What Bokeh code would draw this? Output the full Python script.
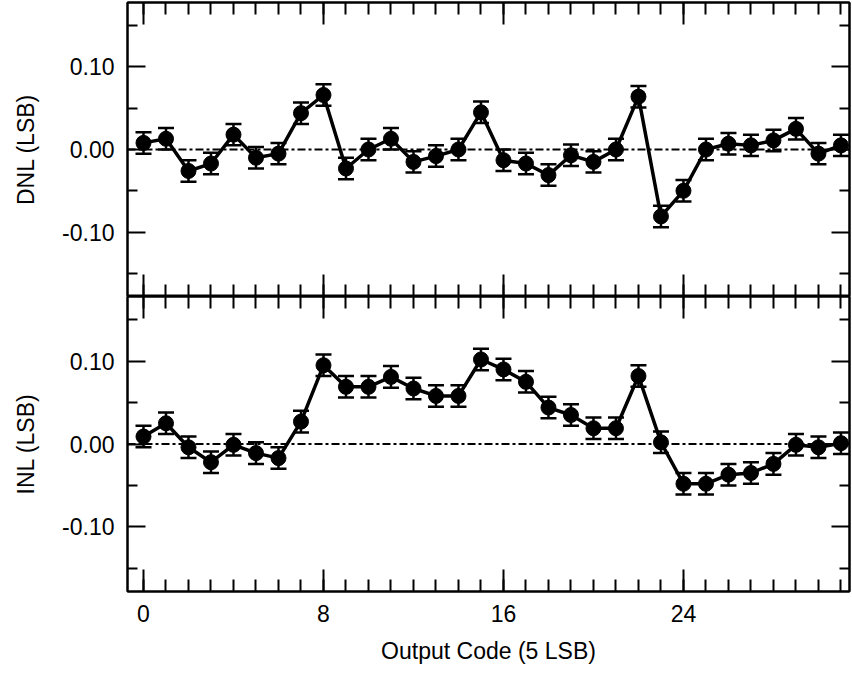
from bokeh.plotting import figure
from bokeh.layouts import column
from bokeh.models import (ColumnDataSource, Range1d, LinearAxis, FixedTicker,
                          PrintfTickFormatter, Whisker, TeeHead, Span)
from bokeh.embed import file_html
from bokeh.resources import INLINE

# ---- data ----
codes = list(range(32))
dnl = [0.008, 0.013, -0.026, -0.017, 0.018, -0.010, -0.005, 0.044,
       0.066, -0.023, 0.000, 0.013, -0.015, -0.008, 0.000, 0.045,
       -0.013, -0.017, -0.031, -0.007, -0.015, 0.000, 0.064, -0.081,
       -0.050, 0.000, 0.007, 0.005, 0.011, 0.025, -0.005, 0.005]
inl = [0.009, 0.025, -0.004, -0.022, -0.001, -0.011, -0.017, 0.027,
       0.095, 0.069, 0.069, 0.081, 0.067, 0.058, 0.058, 0.102,
       0.090, 0.075, 0.044, 0.035, 0.019, 0.019, 0.082, 0.002,
       -0.048, -0.048, -0.037, -0.035, -0.024, -0.001, -0.004, 0.001]
err = [0.013] * 32
x_major = [0, 8, 16, 24]
x_minor = list(range(32))
y_major = [-0.10, 0.00, 0.10]
y_minor = [-0.15, -0.05, 0.05, 0.15]
x_label = "Output Code (5 LSB)"
y_labels = ["DNL (LSB)", "INL (LSB)"]

FONT = "Liberation Sans"
FS = "23px"

x_range = Range1d(-0.711, 31.38)


def style_axis(ax, show_labels, horizontal):
    ax.axis_line_width = 2
    ax.axis_line_color = "black"
    ax.major_tick_line_width = 2
    ax.minor_tick_line_width = 2
    ax.major_tick_line_color = "black"
    ax.minor_tick_line_color = "black"
    ax.major_tick_out = 0
    ax.minor_tick_out = 0
    if horizontal:
        ax.major_tick_in = 22
        ax.minor_tick_in = 12
    else:
        ax.major_tick_in = 18
        ax.minor_tick_in = 10
    ax.major_label_text_font = FONT
    ax.axis_label_text_font = FONT
    ax.axis_label_text_font_style = "normal"
    ax.axis_label_text_color = "black"
    ax.axis_label_text_font_size = FS
    if show_labels:
        ax.major_label_text_font_size = FS
        ax.major_label_text_color = "black"
    else:
        ax.major_label_text_font_size = "1px"
        ax.major_label_text_color = None
        ax.major_label_standoff = 0


def make_panel(values, ylab, is_bottom):
    p = figure(frame_width=722, frame_height=295 if is_bottom else 294,
               x_range=x_range,
               y_range=Range1d(-0.178, 0.178), output_backend="svg",
               toolbar_location=None, x_axis_location=None,
               y_axis_location=None,
               min_border_left=127, min_border_right=2,
               min_border_top=0 if is_bottom else 2,
               min_border_bottom=0)
    p.grid.visible = False
    p.outline_line_color = "black"
    p.outline_line_width = 2
    p.background_fill_color = "white"
    p.border_fill_color = "white"

    xt = FixedTicker(ticks=x_major, minor_ticks=x_minor)
    yt = FixedTicker(ticks=y_major, minor_ticks=y_minor)

    below = LinearAxis(ticker=xt)
    above = LinearAxis(ticker=xt)
    left = LinearAxis(ticker=yt, formatter=PrintfTickFormatter(format="%.2f"),
                      axis_label=ylab)
    right = LinearAxis(ticker=yt)
    style_axis(below, is_bottom, True)
    style_axis(above, False, True)
    style_axis(left, True, False)
    style_axis(right, False, False)
    left.major_label_standoff = 13
    left.axis_label_standoff = 20
    if is_bottom:
        below.axis_label = x_label
        below.major_label_standoff = 13
        below.axis_label_standoff = 13
    p.add_layout(below, "below")
    p.add_layout(above, "above")
    p.add_layout(left, "left")
    p.add_layout(right, "right")

    p.add_layout(Span(location=0, dimension="width", line_color="black",
                      line_width=2, line_dash="8 3 3 3"))

    upper = [v + e for v, e in zip(values, err)]
    lower = [v - e for v, e in zip(values, err)]
    src = ColumnDataSource(dict(x=codes, y=values, upper=upper, lower=lower))
    p.add_layout(Whisker(source=src, base="x", upper="upper", lower="lower",
                         line_color="black", line_width=2.5,
                         upper_head=TeeHead(size=16, line_width=2.5, line_color="black"),
                         lower_head=TeeHead(size=16, line_width=2.5, line_color="black"),
                         level="glyph"))
    p.line("x", "y", source=src, line_color="black", line_width=3.5)
    p.scatter("x", "y", source=src, size=15, fill_color="black",
              line_color="black")
    return p


top = make_panel(dnl, y_labels[0], False)
bottom = make_panel(inl, y_labels[1], True)
layout = column(top, bottom, spacing=0)

open("out.html", "w").write(file_html(layout, INLINE))
